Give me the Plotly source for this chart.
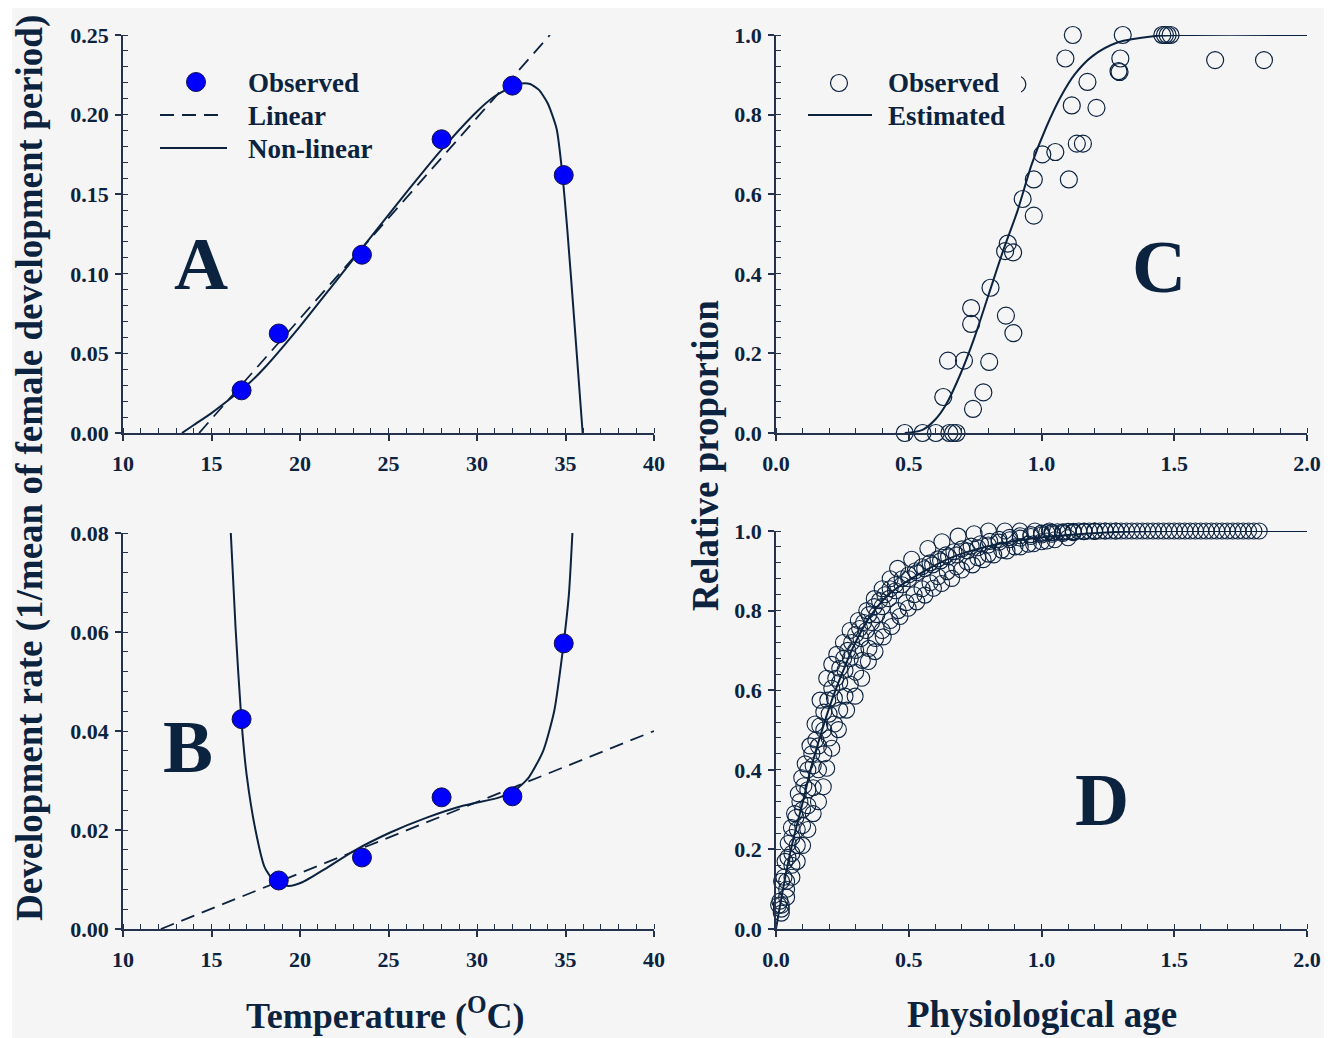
import plotly.graph_objects as go

# ---------------- DATA ----------------
# Panel A: development rate vs temperature
temp_obs = [16.7, 18.8, 23.5, 28.0, 32.0, 34.9]
rate_obs_A = [0.0268, 0.0625, 0.1120, 0.1845, 0.2182, 0.1620]
lin_A_x = [14.3, 34.12]
lin_A_y = [0.0, 0.25]
nl_A_x = [13.33, 14.0, 15.0, 16.0, 17.0, 18.0, 20.0, 22.0, 24.0, 26.0, 28.0, 30.0, 31.0,
          32.0, 32.5, 33.0, 33.5, 34.0, 34.5, 34.8, 35.1, 35.5, 35.97]
nl_A_y = [0.0, 0.005, 0.0125, 0.021, 0.030, 0.041, 0.067, 0.095, 0.123, 0.151, 0.178,
          0.202, 0.2115, 0.2175, 0.2195, 0.2192, 0.2155, 0.207, 0.191, 0.165, 0.128, 0.07, 0.0]

# Panel B: variance of development rate vs temperature
rate_obs_B = [0.0424, 0.0098, 0.01445, 0.0266, 0.0268, 0.0577]
lin_B_x = [12.14, 40.0]
lin_B_y = [0.0, 0.04]
nl_B_x = [16.09, 16.36, 16.69, 16.98, 17.49, 18.0, 18.52, 19.34, 20.16, 21.4, 23.05, 25.1,
          27.16, 29.2, 31.27, 32.1, 32.92, 33.74, 34.36, 34.84, 35.19, 35.39]
nl_B_y = [0.08, 0.0608, 0.0422, 0.0313, 0.0199, 0.0125, 0.0098, 0.0087, 0.0095, 0.0121, 0.0158,
          0.0195, 0.0225, 0.0249, 0.0266, 0.0279, 0.0306, 0.036, 0.044, 0.0561, 0.0675, 0.08]

# Panel C: cumulative proportion vs physiological age
c_obs_x = [0.485, 0.552, 0.602, 0.653, 0.667, 0.680, 0.630, 0.742, 0.781, 0.648, 0.708, 0.803,
           0.735, 0.735, 0.866, 0.894, 0.808, 0.873, 0.863, 0.893, 0.929, 0.971, 0.971, 1.003,
           1.052, 1.103, 1.114, 1.133, 1.156, 1.207, 1.173, 1.090, 1.118, 1.297, 1.290, 1.294,
           1.306, 1.455, 1.465, 1.475, 1.486, 1.654, 1.838, 0.909]
c_obs_y = [0.0, 0.0, 0.0, 0.0, 0.0, 0.0, 0.0905, 0.0604, 0.102, 0.182, 0.182, 0.1785,
           0.314, 0.274, 0.295, 0.251, 0.365, 0.476, 0.457, 0.454, 0.588, 0.546, 0.637, 0.700,
           0.706, 0.637, 0.823, 0.727, 0.727, 0.817, 0.882, 0.941, 1.0, 0.941, 0.909, 0.907,
           1.0, 1.0, 1.0, 1.0, 1.0, 0.937, 0.937, 0.876]
c_est_x = [0.485, 0.552, 0.60, 0.64, 0.694, 0.747, 0.801, 0.855, 0.909, 0.963, 1.017, 1.071,
           1.125, 1.192, 1.286, 1.421, 1.556, 2.0]
c_est_y = [0.0, 0.008, 0.034, 0.071, 0.147, 0.239, 0.348, 0.457, 0.557, 0.675, 0.767, 0.843,
           0.901, 0.947, 0.981, 0.997, 1.0, 1.0]

# Panel D: proportion vs physiological age (several observation series)
d_s1_x = [0.010, 0.021, 0.034, 0.046, 0.058, 0.070, 0.084, 0.097, 0.110, 0.128, 0.147, 0.166,
          0.191, 0.210, 0.229, 0.254, 0.279, 0.310, 0.342, 0.370, 0.400, 0.430, 0.458, 0.511,
          0.572, 0.625, 0.686, 0.746, 0.800, 0.862, 0.919, 0.975, 1.030]
d_s1_y = [0.06, 0.12, 0.17, 0.215, 0.255, 0.29, 0.34, 0.38, 0.415, 0.46, 0.515, 0.575,
          0.63, 0.665, 0.69, 0.72, 0.75, 0.775, 0.80, 0.83, 0.855, 0.88, 0.906, 0.929,
          0.956, 0.973, 0.987, 0.993, 1.0, 1.0, 1.0, 1.0, 1.0]
d_s2_x = [0.015, 0.03, 0.045, 0.06, 0.075, 0.09, 0.105, 0.12, 0.135, 0.15, 0.165, 0.18, 0.195,
          0.21, 0.225, 0.24, 0.255, 0.27, 0.285, 0.30, 0.315, 0.33, 0.35, 0.37, 0.39, 0.41, 0.43,
          0.45, 0.475, 0.50, 0.525, 0.55, 0.58, 0.61, 0.64, 0.67, 0.70, 0.735, 0.77, 0.805, 0.84,
          0.88, 0.92, 0.96, 1.0, 1.04, 1.08, 1.12, 1.16, 1.2]
d_s2_y = [0.07, 0.13, 0.18, 0.23, 0.28, 0.32, 0.36, 0.40, 0.44, 0.475, 0.51, 0.545, 0.575,
          0.605, 0.63, 0.655, 0.68, 0.70, 0.72, 0.74, 0.755, 0.77, 0.79, 0.81, 0.825, 0.84, 0.855,
          0.865, 0.88, 0.89, 0.90, 0.91, 0.92, 0.93, 0.94, 0.948, 0.955, 0.962, 0.968, 0.974, 0.979,
          0.984, 0.988, 0.991, 0.994, 0.996, 0.997, 0.998, 0.999, 1.0]
d_s3_x = [0.02, 0.04, 0.06, 0.08, 0.10, 0.12, 0.14, 0.16, 0.18, 0.20, 0.22, 0.24, 0.26, 0.28,
          0.30, 0.32, 0.34, 0.36, 0.38, 0.40, 0.425, 0.45, 0.475, 0.50, 0.53, 0.56, 0.59, 0.62,
          0.65, 0.68, 0.72, 0.76, 0.80, 0.84, 0.88, 0.92, 0.96, 1.0, 1.04, 1.08, 1.12, 1.16, 1.2,
          1.24, 1.28]
d_s3_y = [0.06, 0.12, 0.19, 0.25, 0.30, 0.35, 0.41, 0.46, 0.50, 0.54, 0.58, 0.62, 0.65, 0.68,
          0.70, 0.73, 0.75, 0.77, 0.79, 0.81, 0.83, 0.85, 0.865, 0.88, 0.895, 0.905, 0.915, 0.925,
          0.935, 0.94, 0.95, 0.958, 0.965, 0.972, 0.978, 0.982, 0.986, 0.99, 0.992, 0.994, 0.996,
          0.998, 0.999, 1.0, 1.0]
d_s4_x = [0.02, 0.04, 0.06, 0.08, 0.10, 0.12, 0.14, 0.16, 0.18, 0.20, 0.22, 0.24, 0.26, 0.28,
          0.30, 0.325, 0.35, 0.375, 0.40, 0.43, 0.46, 0.49, 0.52, 0.55, 0.58, 0.61, 0.645, 0.68,
          0.72, 0.76, 0.80, 0.85, 0.90, 0.95, 1.0, 1.05, 1.1]
d_s4_y = [0.05, 0.10, 0.16, 0.21, 0.26, 0.31, 0.355, 0.40, 0.44, 0.48, 0.515, 0.55, 0.585,
          0.615, 0.645, 0.675, 0.705, 0.73, 0.75, 0.775, 0.80, 0.82, 0.84, 0.855, 0.87, 0.885,
          0.898, 0.91, 0.922, 0.933, 0.942, 0.952, 0.96, 0.967, 0.973, 0.978, 0.983]
d_s5_x = [0.02, 0.04, 0.06, 0.08, 0.10, 0.12, 0.14, 0.16, 0.178, 0.191, 0.21, 0.235, 0.266,
          0.298, 0.323, 0.348, 0.373, 0.404, 0.436, 0.467, 0.498, 0.53, 0.561, 0.593, 0.624,
          0.662, 0.699, 0.74, 0.78, 0.82, 0.87, 0.92, 0.97, 1.02]
d_s5_y = [0.04, 0.08, 0.13, 0.17, 0.21, 0.25, 0.29, 0.32, 0.3575, 0.404, 0.454, 0.501, 0.55,
          0.585, 0.63, 0.672, 0.697, 0.734, 0.76, 0.785, 0.806, 0.822, 0.839, 0.856, 0.868,
          0.881, 0.902, 0.915, 0.928, 0.94, 0.95, 0.96, 0.968, 0.975]
d_s6_x = [1.00, 1.02, 1.04, 1.06, 1.08, 1.10, 1.12, 1.14, 1.16, 1.18, 1.20, 1.22, 1.24, 1.26,
          1.28, 1.30, 1.32, 1.34, 1.36, 1.38, 1.40, 1.42, 1.44, 1.46, 1.48, 1.50, 1.52, 1.54,
          1.56, 1.58, 1.60, 1.62, 1.64, 1.66, 1.68, 1.70, 1.72, 1.74, 1.76, 1.78, 1.80, 1.82]
d_s6_y = [0.995, 0.996, 0.997, 0.998, 0.998, 0.999, 0.999, 1.0, 1.0, 1.0, 1.0, 1.0, 1.0, 1.0,
          1.0, 1.0, 1.0, 1.0, 1.0, 1.0, 1.0, 1.0, 1.0, 1.0, 1.0, 1.0, 1.0, 1.0,
          1.0, 1.0, 1.0, 1.0, 1.0, 1.0, 1.0, 1.0, 1.0, 1.0, 1.0, 1.0, 1.0, 1.0]
d_est_x = [0.0, 0.025, 0.053, 0.08, 0.103, 0.13, 0.166, 0.2, 0.229, 0.26, 0.291, 0.354, 0.429,
           0.542, 0.667, 0.8, 0.95, 1.1, 1.3, 1.5, 2.0]
d_est_y = [0.0, 0.095, 0.19, 0.265, 0.324, 0.40, 0.483, 0.555, 0.609, 0.66, 0.709, 0.785, 0.843,
           0.893, 0.935, 0.962, 0.98, 0.99, 0.998, 1.0, 1.0]

temp_ticks = [10, 15, 20, 25, 30, 35, 40]
age_ticks = [0.0, 0.5, 1.0, 1.5, 2.0]

# ---------------- STYLE / LAYOUT ----------------
W, H, OFF = 1337, 1038, 0
NAVY = "#0c2340"
AXC = "#24324d"
BG = "#f5f5f5"
FONT = "Liberation Serif"
BLUE = "#0000ff"


def fx(sx):
    return (sx - OFF) / W


def fy(sy):
    return 1 - (sy - OFF) / H


fig = go.Figure()

solid = dict(color=NAVY, width=2)
dashed = dict(color=NAVY, width=1.8, dash="14px,8px")
filled = dict(color=BLUE, size=19, line=dict(color="#10104a", width=1))
hollow_c = dict(symbol="circle-open", color=NAVY, size=17, line=dict(width=1.2))
hollow_d = dict(symbol="circle-open", color=NAVY, size=16, line=dict(width=1.1))

# Panel A
fig.add_trace(go.Scatter(x=lin_A_x, y=lin_A_y, mode="lines", line=dashed, xaxis="x", yaxis="y"))
fig.add_trace(go.Scatter(x=nl_A_x, y=nl_A_y, mode="lines", line=dict(shape="spline", smoothing=0.6, **solid),
                         xaxis="x", yaxis="y"))
fig.add_trace(go.Scatter(x=temp_obs, y=rate_obs_A, mode="markers", marker=filled, cliponaxis=False,
                         xaxis="x", yaxis="y"))
# Panel B
fig.add_trace(go.Scatter(x=lin_B_x, y=lin_B_y, mode="lines", line=dashed, xaxis="x2", yaxis="y2"))
fig.add_trace(go.Scatter(x=nl_B_x, y=nl_B_y, mode="lines", line=dict(shape="spline", smoothing=0.6, **solid),
                         xaxis="x2", yaxis="y2"))
fig.add_trace(go.Scatter(x=temp_obs, y=rate_obs_B, mode="markers", marker=filled, cliponaxis=False,
                         xaxis="x2", yaxis="y2"))
# Panel C
fig.add_trace(go.Scatter(x=c_obs_x, y=c_obs_y, mode="markers", marker=hollow_c, cliponaxis=False,
                         xaxis="x3", yaxis="y3"))
fig.add_trace(go.Scatter(x=c_est_x, y=c_est_y, mode="lines", line=dict(shape="spline", smoothing=0.8, **solid),
                         xaxis="x3", yaxis="y3"))
# Panel D
for xs, ys in [(d_s1_x, d_s1_y), (d_s2_x, d_s2_y), (d_s3_x, d_s3_y), (d_s4_x, d_s4_y),
               (d_s5_x, d_s5_y), (d_s6_x, d_s6_y)]:
    fig.add_trace(go.Scatter(x=xs, y=ys, mode="markers", marker=hollow_d, cliponaxis=False,
                             xaxis="x4", yaxis="y4"))
fig.add_trace(go.Scatter(x=d_est_x, y=d_est_y, mode="lines", line=dict(shape="spline", smoothing=0.8, **solid),
                         xaxis="x4", yaxis="y4"))

tickfont = dict(family=FONT, size=22, color=NAVY, weight="bold")


def xax(domain, anchor, rng, tickvals, fmt, minor_dtick):
    return dict(domain=domain, anchor=anchor, range=rng, tickvals=tickvals, tickformat=fmt,
                automargin=False,
                showline=True, linecolor=AXC, linewidth=1.5, showgrid=False, zeroline=False,
                ticks="outside", ticklen=6, tickwidth=1.5, tickcolor=AXC, tickfont=tickfont,
                ticklabelstandoff=4,
                minor=dict(ticks="inside", ticklen=5, tickwidth=1, tickcolor=AXC, dtick=minor_dtick,
                           showgrid=False))


def yax(domain, anchor, rng, dtick, fmt, minor_dtick):
    return dict(domain=domain, anchor=anchor, range=rng, dtick=dtick, tick0=0, tickformat=fmt,
                automargin=False,
                showline=True, linecolor=AXC, linewidth=1.5, showgrid=False, zeroline=False,
                ticks="outside", ticklen=6, tickwidth=1.5, tickcolor=AXC, tickfont=tickfont,
                ticklabelstandoff=2,
                minor=dict(ticks="inside", ticklen=5, tickwidth=1, tickcolor=AXC, dtick=minor_dtick,
                           showgrid=False))


xdomL = [fx(123), fx(654)]
xdomR = [fx(776), fx(1307)]

fig.update_layout(
    width=W, height=H, margin=dict(l=0, r=0, t=0, b=0, pad=0, autoexpand=False),
    paper_bgcolor=BG, plot_bgcolor="rgba(0,0,0,0)", showlegend=False,
    font=dict(family=FONT, color=NAVY),
    xaxis=xax(xdomL, "y", [10, 40], temp_ticks, "d", 1),
    yaxis=yax([fy(433), fy(35)], "x", [0, 0.25], 0.05, ".2f", 0.01),
    xaxis2=xax(xdomL, "y2", [10, 40], temp_ticks, "d", 1),
    yaxis2=yax([fy(929), fy(533)], "x2", [0, 0.08], 0.02, ".2f", 0.004),
    xaxis3=xax(xdomR, "y3", [0, 2], age_ticks, ".1f", 0.1),
    yaxis3=yax([fy(433), fy(35)], "x3", [0, 1], 0.2, ".1f", 0.04),
    xaxis4=xax(xdomR, "y4", [0, 2], age_ticks, ".1f", 0.1),
    yaxis4=yax([fy(929), fy(531)], "x4", [0, 1], 0.2, ".1f", 0.04),
)

shapes = []
# white page borders
shapes.append(dict(type="rect", xref="paper", yref="paper", x0=0, x1=fx(12), y0=0, y1=1,
                   fillcolor="white", line=dict(width=0), layer="above"))
shapes.append(dict(type="rect", xref="paper", yref="paper", x0=fx(1324), x1=1, y0=0, y1=1,
                   fillcolor="white", line=dict(width=0), layer="above"))
shapes.append(dict(type="rect", xref="paper", yref="paper", x0=0, x1=1, y0=fy(8), y1=1,
                   fillcolor="white", line=dict(width=0), layer="above"))
# legend background in panel C (covers a point, as in the original)
shapes.append(dict(type="rect", xref="paper", yref="paper", x0=fx(795), x1=fx(1021), y0=fy(130), y1=fy(66),
                   fillcolor=BG, line=dict(width=0), layer="above"))
# legend samples panel A
shapes.append(dict(type="circle", xref="paper", yref="paper", x0=fx(186.5), x1=fx(205.5), y0=fy(91.5), y1=fy(72.5),
                   fillcolor=BLUE, line=dict(color="#10104a", width=1), layer="above"))
shapes.append(dict(type="line", xref="paper", yref="paper", x0=fx(160), x1=fx(224), y0=fy(115), y1=fy(115),
                   line=dashed, layer="above"))
shapes.append(dict(type="line", xref="paper", yref="paper", x0=fx(160), x1=fx(227), y0=fy(148), y1=fy(148),
                   line=solid, layer="above"))
# legend samples panel C
shapes.append(dict(type="circle", xref="paper", yref="paper", x0=fx(830.5), x1=fx(847.5), y0=fy(91.5), y1=fy(74.5),
                   line=dict(color=NAVY, width=1.2), layer="above"))
shapes.append(dict(type="line", xref="paper", yref="paper", x0=fx(808), x1=fx(872), y0=fy(115), y1=fy(115),
                   line=solid, layer="above"))
fig.update_layout(shapes=shapes)

ann = []


def text(sx, sy, s, size, xanchor="center", angle=0):
    ann.append(dict(x=fx(sx), y=fy(sy), xref="paper", yref="paper", text=s, showarrow=False,
                    xanchor=xanchor, yanchor="middle", textangle=angle,
                    font=dict(family=FONT, size=size, color=NAVY, weight="bold")))


text(246, 83, "Observed", 27, "left")
text(246, 116, "Linear", 27, "left")
text(246, 149, "Non-linear", 27, "left")
text(886, 83, "Observed", 27, "left")
text(886, 116, "Estimated", 27, "left")
text(201, 263, "A", 75)
text(188, 746, "B", 75)
text(1159, 266, "C", 75)
text(1102, 799, "D", 75)
text(30, 468, "Development rate (1/mean of female development period)", 37, angle=-90)
text(705, 456, "Relative proportion", 37, angle=-90)
text(385, 1013, "Temperature (<sup>O</sup>C)", 36)
text(1042, 1014, "Physiological age", 37)
fig.update_layout(annotations=ann)

fig.write_html("out.html", config={"displayModeBar": False},
               post_script="document.body.style.margin='0px';document.body.style.overflow='hidden';")
